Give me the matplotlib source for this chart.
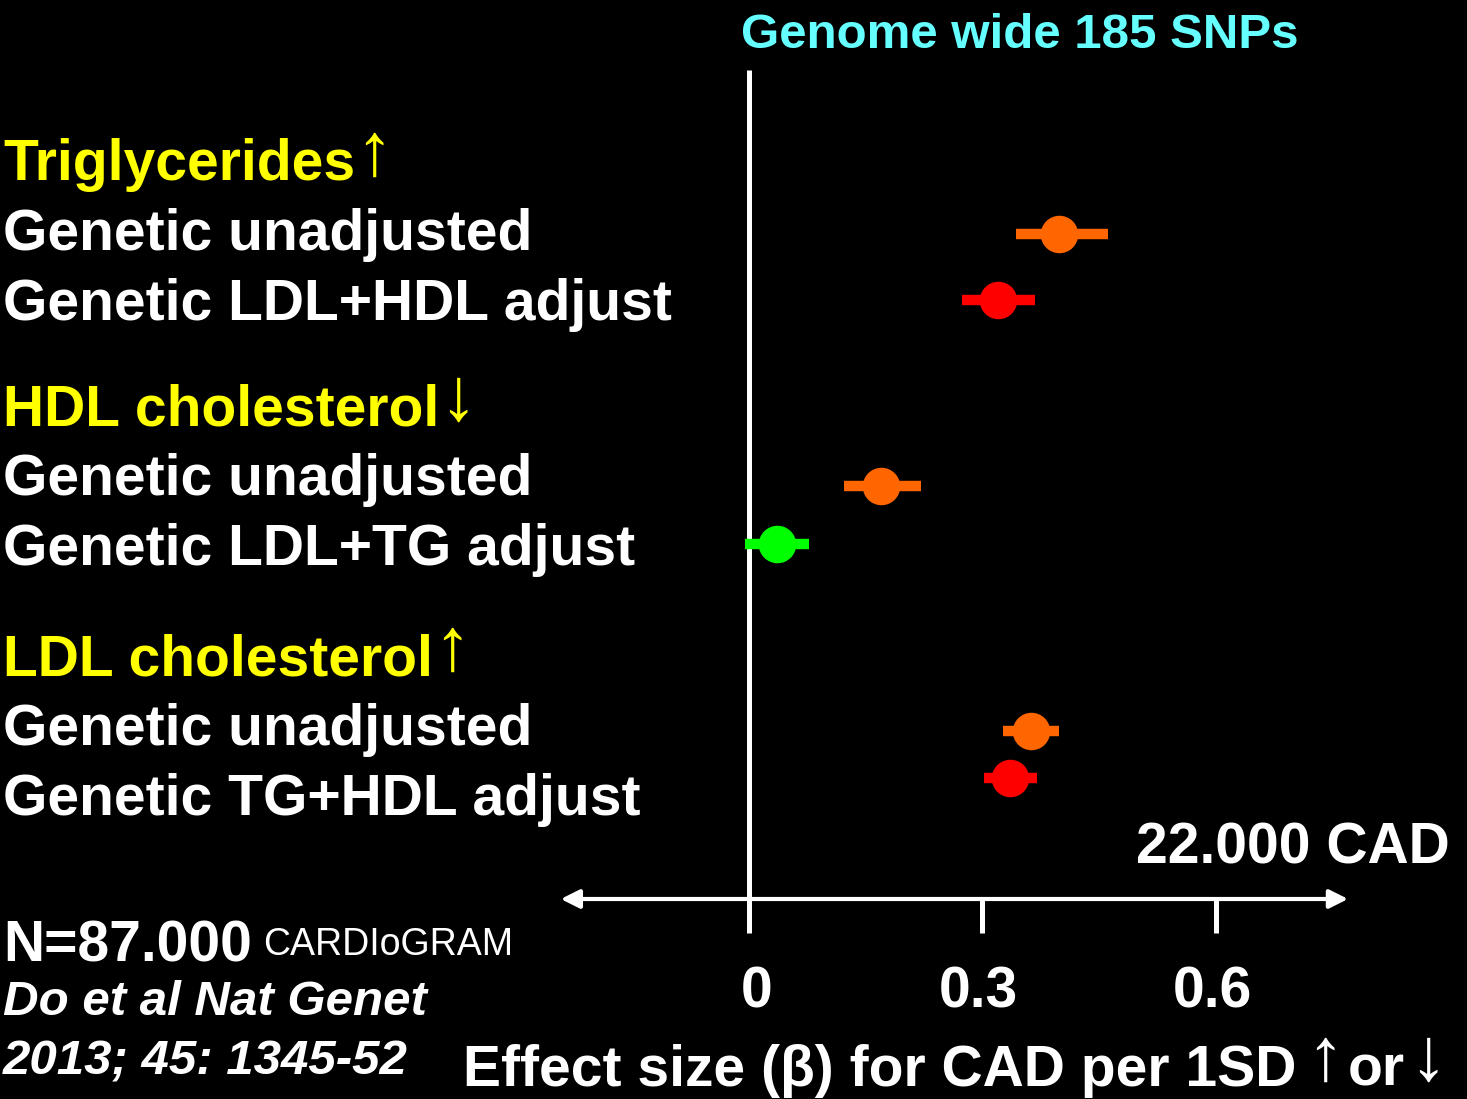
import matplotlib
matplotlib.use("Agg")
import matplotlib.pyplot as plt

# ---- data ----
groups = ["Triglycerides", "HDL cholesterol", "LDL cholesterol"]
group_arrows = ["\u2191", "\u2193", "\u2191"]
row_labels = [["Genetic unadjusted", "Genetic LDL+HDL adjust"],
              ["Genetic unadjusted", "Genetic LDL+TG adjust"],
              ["Genetic unadjusted", "Genetic TG+HDL adjust"]]
beta = [0.398, 0.320, 0.170, 0.036, 0.362, 0.335]
ci_low = [0.343, 0.274, 0.122, -0.005, 0.326, 0.302]
ci_high = [0.461, 0.368, 0.221, 0.077, 0.398, 0.370]
point_colors = ["#FF6600", "#FF0000", "#FF6600", "#00FF00", "#FF6600", "#FF0000"]
xticks = [0, 0.3, 0.6]
xtick_labels = ["0", "0.3", "0.6"]

plt.rcParams['font.family'] = ['Liberation Sans', 'DejaVu Sans']

W, H = 1467, 1099
fig = plt.figure(figsize=(W / 100, H / 100), dpi=100, facecolor="black")
ax = fig.add_axes([0, 0, 1, 1], facecolor="black")
ppu = 778.0  # pixels per unit of beta
x0 = 749.0
ax.set_xlim(-x0 / ppu, (W - x0) / ppu)
ax.set_ylim(H, 0)
ax.axis("off")
renderer = fig.canvas.get_renderer()


def px(x):
    return (x - x0) / ppu


def pieces(xpix, y, parts, color, **kw):
    """Draw text pieces (text, size, gap_px, dy_px) one after another from pixel x."""
    cur = xpix
    for s, size, gap, dy in parts:
        cur += gap
        t = ax.text(px(cur), y + dy, s, color=color, fontsize=size, ha="left",
                    va="baseline", **kw)
        bb = t.get_window_extent(renderer)
        cur = bb.x1
    return cur


# layout (pixel rows)
group_y = [180, 425, 675]
row_text_y = [[250, 320], [495, 565], [745, 815]]
point_y = [234, 300, 486, 544, 731, 778]
FS = 41
AFS = 54  # arrow glyph size

# axes lines
ax.plot([0, 0], [70, 933], color="white", lw=3.6, solid_capstyle="butt", zorder=1)
ax.annotate("", xy=(-0.242, 899), xytext=(0.77, 899),
            arrowprops=dict(arrowstyle="<|-|>", color="white", lw=3.0,
                            mutation_scale=28, shrinkA=0, shrinkB=0))
for t, lab in zip(xticks, xtick_labels):
    if t != 0:
        ax.plot([t, t], [899, 933], color="white", lw=3.6, solid_capstyle="butt")
    ax.text(t + (0.01 if t == 0 else -0.005), 1008, lab, color="white", fontsize=FS,
            fontweight="bold", ha="center", va="baseline")

# points with CI bars
for b, lo, hi, c, y in zip(beta, ci_low, ci_high, point_colors, point_y):
    ax.plot([lo, hi], [y, y], color=c, lw=7.5, solid_capstyle="butt", zorder=3)
    ax.plot([b], [y], "o", color=c, markersize=27, markeredgewidth=0, zorder=4)

# labels on the left
for g, arr, gy, labs, ys in zip(groups, group_arrows, group_y, row_labels, row_text_y):
    pieces(3, gy, [(g, FS, 0, 0), (arr, AFS, 0, -5)], "#FFFF00", fontweight="bold")
    for lab, y in zip(labs, ys):
        ax.text(px(3), y, lab, color="white", fontsize=FS, fontweight="bold",
                ha="left", va="baseline")

ax.text(px(1020), 48, "Genome wide 185 SNPs", color="#66FFFF", fontsize=35.5,
        fontweight="bold", ha="center", va="baseline")
ax.text(px(1450), 863, "22.000 CAD", color="white", fontsize=FS, fontweight="bold",
        ha="right", va="baseline")
pieces(463, 1086, [("Effect size (\u03b2) for CAD per 1SD", FS, 0, 0),
                   ("\u2191", AFS, 10, -6), ("or", FS, 4, 0), ("\u2193", AFS, 4, -6)],
       "white", fontweight="bold")
ax.text(px(3), 962, "N=87.000", color="white", fontsize=FS, fontweight="bold",
        ha="left", va="baseline")
ax.text(px(263), 955, "CARDIoGRAM", color="white", fontsize=27,
        ha="left", va="baseline")
ax.text(px(3), 1015, "Do et al Nat Genet", color="white", fontsize=35.5,
        fontweight="bold", fontstyle="italic", ha="left", va="baseline")
ax.text(px(3), 1075, "2013; 45: 1345-52", color="white", fontsize=35.5,
        fontweight="bold", fontstyle="italic", ha="left", va="baseline")

fig.savefig("out.png", dpi=100, facecolor="black")
